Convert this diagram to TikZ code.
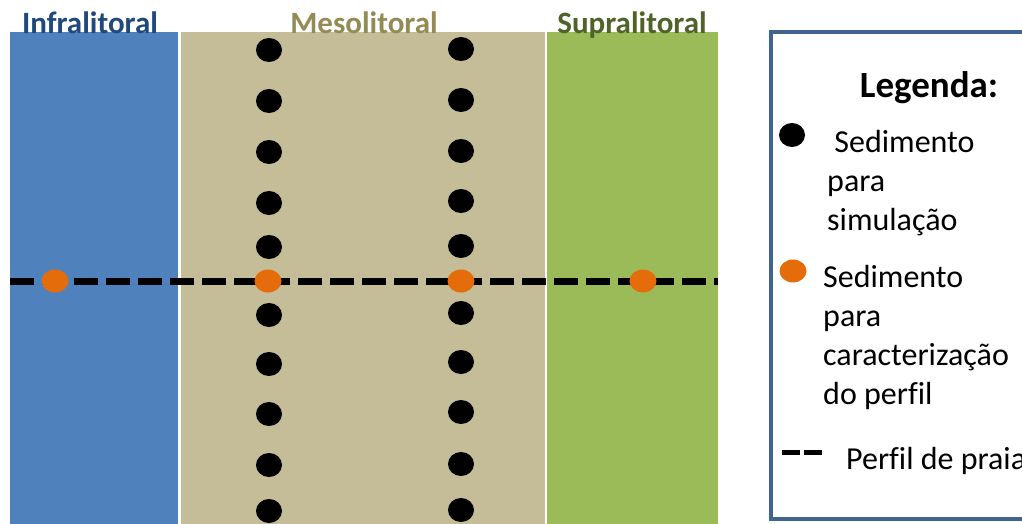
\documentclass[tikz,border=0pt]{standalone}
\usepackage{fontspec}
\setmainfont{Carlito}[Ligatures=NoCommon]
\usetikzlibrary{shapes.geometric}
\definecolor{infra}{RGB}{79,129,189}
\definecolor{meso}{RGB}{196,189,151}
\definecolor{supra}{RGB}{155,187,89}
\definecolor{infratxt}{RGB}{31,73,125}
\definecolor{mesotxt}{RGB}{148,138,84}
\definecolor{supratxt}{RGB}{79,98,40}
\definecolor{dotorange}{RGB}{228,108,10}
\definecolor{legframe}{RGB}{65,100,142}
\tikzset{
  blackdot/.style={ellipse, fill=black, inner sep=0pt, minimum width=26pt, minimum height=24pt},
  orangedot/.style={ellipse, fill=dotorange, inner sep=0pt, minimum width=27pt, minimum height=23pt},
  zonetitle/.style={anchor=base, inner sep=0pt, font=\fontsize{31}{37}\selectfont\bfseries},
  legtext/.style={anchor=base west, inner sep=0pt, font=\fontsize{32}{39}\selectfont},
  profile/.style={line width=7pt, dash pattern=on 24pt off 8pt},
}
\begin{document}
\begin{tikzpicture}[x=1pt,y=-1pt]
\clip (0,0) rectangle (1022,524);
\fill[white] (0,0) rectangle (1022,524);
% zones
\fill[infra] (10,32) rectangle (178,530);
\fill[meso] (181,32) rectangle (545,530);
\fill[supra] (547,32) rectangle (718,530);
% titles
\node[zonetitle, text=infratxt] (tinfra) at (90,34) {Infralitoral};
\node[zonetitle, text=mesotxt] (tmeso) at (364,34) {Mesolitoral};
\node[zonetitle, text=supratxt] (tsupra) at (632,34) {Supralitoral};
% profile line
\coordinate (pstart) at (10,281);
\coordinate (pend) at (718,281);
\draw[profile] (pstart) -- (pend);
% black dots
\foreach \i/\y in {1/50,2/101,3/152,4/203,5/247,6/315,7/364,8/414,9/465,10/511}{
  \node[blackdot] (a\i) at (269,\y) {};
}
\foreach \i/\y in {1/49,2/100,3/151,4/201,5/246,6/313,7/362,8/412,9/464,10/510}{
  \node[blackdot] (b\i) at (461,\y) {};
}
% orange dots
\node[orangedot] (o1) at (55,281) {};
\node[orangedot] (o2) at (268,281) {};
\node[orangedot] (o3) at (461,281) {};
\node[orangedot] (o4) at (643,281) {};
% legend
\draw[legframe, line width=4pt] (771,32) rectangle (1040,519);
\node[anchor=base, inner sep=0pt, font=\fontsize{37}{44}\selectfont\bfseries] (legtitle) at (929,98) {Legenda:};
\node[blackdot] (lblack) at (792,135) {};
\node[legtext] (l1a) at (827,152) {\ Sedimento};
\node[legtext] (l1b) at (827,191) {para};
\node[legtext] (l1c) at (827,230) {simulação};
\node[orangedot] (lorange) at (793,271) {};
\node[legtext] (l2a) at (823,287) {Sedimento};
\node[legtext] (l2b) at (823,326) {para};
\node[legtext] (l2c) at (823,365) {caracterização};
\node[legtext] (l2d) at (823,404) {do perfil};
\coordinate (ldstart) at (782,452);
\coordinate (ldend) at (822,452);
\draw[line width=5pt, dash pattern=on 18pt off 4pt] (ldstart) -- (ldend);
\node[legtext] (l3) at (846,469) {Perfil de praia};
\end{tikzpicture}
\end{document}
